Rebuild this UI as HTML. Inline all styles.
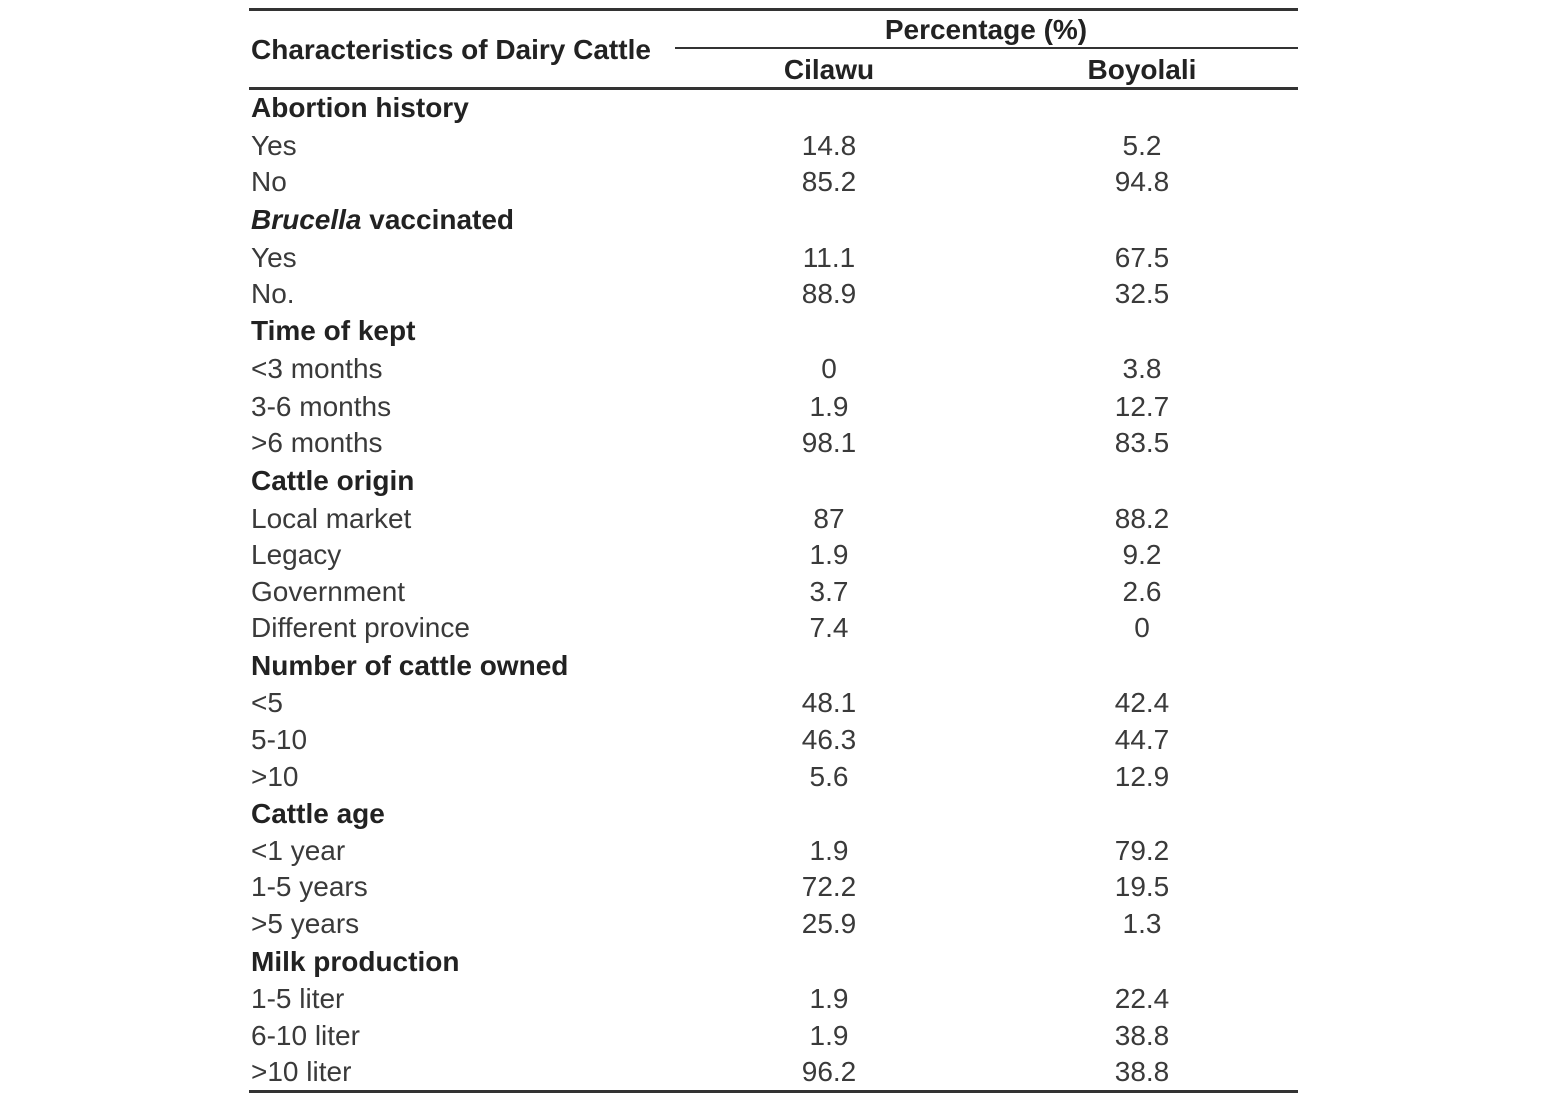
<!DOCTYPE html>
<html><head><style>
body{margin:0;width:1559px;height:1099px;background:#fff;position:relative;font-family:"Liberation Sans",Arial,sans-serif;color:#3a3a3a;overflow:hidden}
.r{position:absolute;left:0;width:1559px;height:32px;line-height:32px;font-size:28px;margin-top:-1px}
.l{position:absolute;left:251px;white-space:nowrap}
.c{position:absolute;left:729px;width:200px;text-align:center}
.d{position:absolute;left:1042px;width:200px;text-align:center}
.h .l{font-weight:bold;color:#222}
.line{position:absolute;background:#333}
</style></head><body>
<div class="line" style="left:249px;top:8px;width:1049px;height:3px"></div>
<div class="line" style="left:675px;top:47px;width:623px;height:2px"></div>
<div class="line" style="left:249px;top:87px;width:1049px;height:3px"></div>
<div class="line" style="left:249px;top:1090px;width:1049px;height:3px"></div>
<div class="r" style="top:15px"><div style="position:absolute;left:786px;width:400px;text-align:center;font-weight:bold;color:#222">Percentage (%)</div></div>
<div class="r h" style="top:35px"><div class="l">Characteristics of Dairy Cattle</div></div>
<div class="r" style="top:55px;font-weight:bold;color:#222"><div class="c">Cilawu</div><div class="d">Boyolali</div></div>
<div class="r h" style="top:93px"><div class="l">Abortion history</div></div>
<div class="r" style="top:131px"><div class="l">Yes</div><div class="c">14.8</div><div class="d">5.2</div></div>
<div class="r" style="top:167px"><div class="l">No</div><div class="c">85.2</div><div class="d">94.8</div></div>
<div class="r h" style="top:205px"><div class="l"><i>Brucella</i> vaccinated</div></div>
<div class="r" style="top:243px"><div class="l">Yes</div><div class="c">11.1</div><div class="d">67.5</div></div>
<div class="r" style="top:279px"><div class="l">No.</div><div class="c">88.9</div><div class="d">32.5</div></div>
<div class="r h" style="top:316px"><div class="l">Time of kept</div></div>
<div class="r" style="top:354px"><div class="l">&lt;3 months</div><div class="c">0</div><div class="d">3.8</div></div>
<div class="r" style="top:392px"><div class="l">3-6 months</div><div class="c">1.9</div><div class="d">12.7</div></div>
<div class="r" style="top:428px"><div class="l">&gt;6 months</div><div class="c">98.1</div><div class="d">83.5</div></div>
<div class="r h" style="top:466px"><div class="l">Cattle origin</div></div>
<div class="r" style="top:504px"><div class="l">Local market</div><div class="c">87</div><div class="d">88.2</div></div>
<div class="r" style="top:540px"><div class="l">Legacy</div><div class="c">1.9</div><div class="d">9.2</div></div>
<div class="r" style="top:577px"><div class="l">Government</div><div class="c">3.7</div><div class="d">2.6</div></div>
<div class="r" style="top:613px"><div class="l">Different province</div><div class="c">7.4</div><div class="d">0</div></div>
<div class="r h" style="top:651px"><div class="l">Number of cattle owned</div></div>
<div class="r" style="top:688px"><div class="l">&lt;5</div><div class="c">48.1</div><div class="d">42.4</div></div>
<div class="r" style="top:725px"><div class="l">5-10</div><div class="c">46.3</div><div class="d">44.7</div></div>
<div class="r" style="top:762px"><div class="l">&gt;10</div><div class="c">5.6</div><div class="d">12.9</div></div>
<div class="r h" style="top:799px"><div class="l">Cattle age</div></div>
<div class="r" style="top:836px"><div class="l">&lt;1 year</div><div class="c">1.9</div><div class="d">79.2</div></div>
<div class="r" style="top:872px"><div class="l">1-5 years</div><div class="c">72.2</div><div class="d">19.5</div></div>
<div class="r" style="top:909px"><div class="l">&gt;5 years</div><div class="c">25.9</div><div class="d">1.3</div></div>
<div class="r h" style="top:947px"><div class="l">Milk production</div></div>
<div class="r" style="top:984px"><div class="l">1-5 liter</div><div class="c">1.9</div><div class="d">22.4</div></div>
<div class="r" style="top:1021px"><div class="l">6-10 liter</div><div class="c">1.9</div><div class="d">38.8</div></div>
<div class="r" style="top:1057px"><div class="l">&gt;10 liter</div><div class="c">96.2</div><div class="d">38.8</div></div>
</body></html>
